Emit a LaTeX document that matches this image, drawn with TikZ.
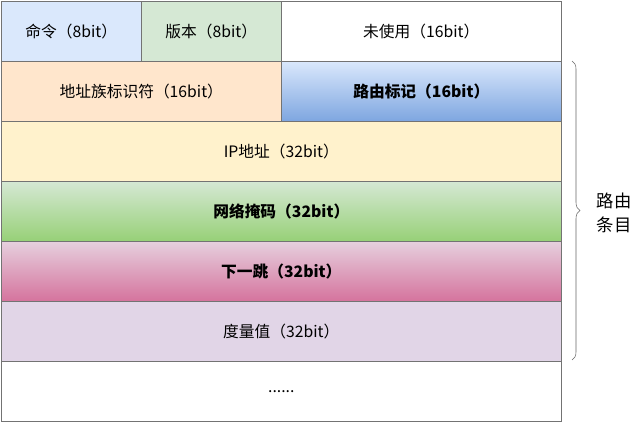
\documentclass[tikz,border=0pt]{standalone}
\usepackage{fontspec}
\setmainfont{Noto Sans CJK SC}
\usetikzlibrary{decorations.pathreplacing}
\definecolor{cmdblue}{HTML}{DAE8FC}
\definecolor{tagblue}{HTML}{7EA6E0}
\definecolor{vergreen}{HTML}{D5E8D4}
\definecolor{maskgreen}{HTML}{97D077}
\definecolor{afiorange}{HTML}{FFE6CC}
\definecolor{ipyellow}{HTML}{FFF2CC}
\definecolor{hoppink}{HTML}{E6D0DE}
\definecolor{hoprose}{HTML}{D5739D}
\definecolor{metricpurple}{HTML}{E1D5E7}

\begin{document}
\begin{tikzpicture}[x=0.75pt,y=-0.75pt,
  field/.style={draw=black!55, anchor=north west, minimum height=45pt, inner sep=0pt, font=\fontsize{11.8}{14}\selectfont},
  half/.style={field, minimum width=105pt},
  wide/.style={field, minimum width=210pt},
  full/.style={field, minimum width=420pt},
  boldfield/.style={font=\fontsize{11.8}{14}\selectfont\bfseries}]
\useasboundingbox (0,0) rectangle (641,421);
% header
\node[half, fill=cmdblue] (cmd) at (1,1) {命令（8bit）};
\node[half, fill=vergreen] (ver) at (141,1) {版本（8bit）};
\node[wide, fill=white] (unused) at (281,1) {未使用（16bit）};
% route entry
\node[wide, fill=afiorange] (afi) at (1,61) {地址族标识符（16bit）};
\node[wide, boldfield, top color=cmdblue, bottom color=tagblue] (tag) at (281,61) {路由标记（16bit）};
\node[full, fill=ipyellow] (ip) at (1,121) {IP地址（32bit）};
\node[full, boldfield, top color=vergreen, bottom color=maskgreen] (mask) at (1,181) {网络掩码（32bit）};
\node[full, boldfield, top color=hoppink, bottom color=hoprose] (hop) at (1,241) {下一跳（32bit）};
\node[full, fill=metricpurple] (metric) at (1,301) {度量值（32bit）};
\node[full, fill=white] (more) at (1,361) {......};
% brace
\coordinate (btop) at (572,61);
\coordinate (bbot) at (572,360);
\draw[black!60, decorate, decoration={brace, amplitude=6pt}] (btop) -- (bbot);
\node[align=center, font=\fontsize{13}{18}\selectfont] (entry) at (614,213) {路由\\条目};
\end{tikzpicture}
\end{document}
